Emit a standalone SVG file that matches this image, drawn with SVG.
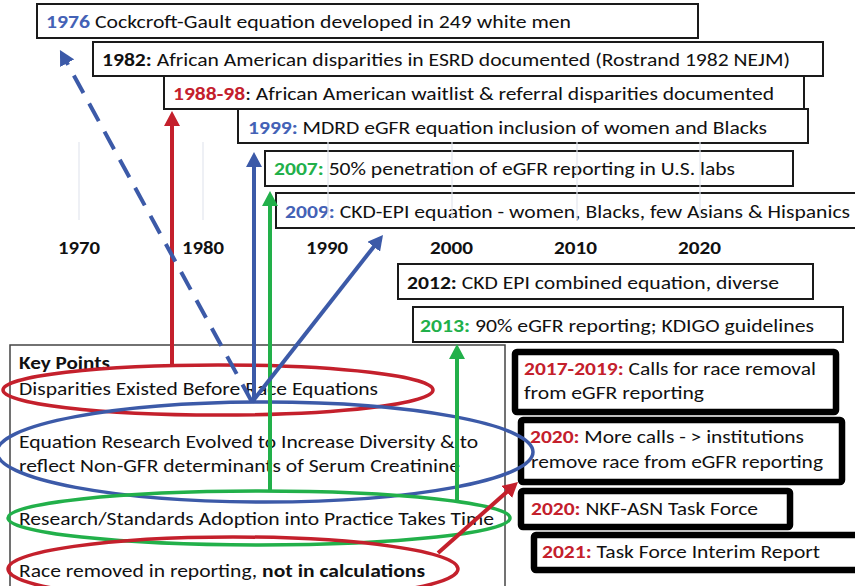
<svg xmlns="http://www.w3.org/2000/svg" width="855" height="586" viewBox="0 0 855 586">
<style>
text{font-family:Carlito,Lato,"Open Sans","Liberation Sans",sans-serif;fill:#111;}
.t{font-size:19px;}
.k{font-size:18px;}
.yr{font-size:18px;font-weight:bold;}
.b{font-weight:bold;}
.bl{fill:#4462b6;font-weight:bold;}
.rd{fill:#c4202c;font-weight:bold;}
.gr{fill:#22b04a;font-weight:bold;}
.box{fill:#fff;stroke:#1a1a1a;stroke-width:2;}
.tbox{fill:#fff;stroke:#000;stroke-width:6.5;}
.grid{stroke:#e3e6ee;stroke-width:1.2;}
.ell{fill:none;stroke-width:3.5;}
.arr{fill:none;stroke-width:4;}
</style>
<defs>
<marker id="hr" markerUnits="userSpaceOnUse" markerWidth="16" markerHeight="16" refX="3" refY="8" orient="auto"><path d="M0,0 L15,8 L0,16 z" fill="#c4202c"/></marker>
<marker id="hb" markerUnits="userSpaceOnUse" markerWidth="16" markerHeight="16" refX="3" refY="8" orient="auto"><path d="M0,0 L15,8 L0,16 z" fill="#3c5aa8"/></marker>
<marker id="hg" markerUnits="userSpaceOnUse" markerWidth="16" markerHeight="16" refX="3" refY="8" orient="auto"><path d="M0,0 L15,8 L0,16 z" fill="#22b04a"/></marker>
</defs>

<g id="e1976"><rect class="box" x="37" y="4" width="661" height="34"/><text class="t" x="46" y="28" textLength="525" lengthAdjust="spacingAndGlyphs"><tspan class="bl">1976</tspan> Cockcroft-Gault equation developed in 249 white men</text></g>
<g id="e1982"><rect class="box" x="93" y="42" width="730" height="34"/><text class="t" x="102" y="66" textLength="688" lengthAdjust="spacingAndGlyphs"><tspan class="b">1982:</tspan> African American disparities in ESRD documented (Rostrand 1982 NEJM)</text></g>
<g id="e1988"><rect class="box" x="164" y="76" width="640" height="33"/><text class="t" x="173" y="100" textLength="601" lengthAdjust="spacingAndGlyphs"><tspan class="rd">1988-98</tspan>: African American waitlist &amp; referral disparities documented</text></g>
<g id="e1999"><rect class="box" x="238" y="109" width="570" height="34"/><text class="t" x="248" y="134" textLength="519" lengthAdjust="spacingAndGlyphs"><tspan class="bl">1999:</tspan> MDRD eGFR equation inclusion of women and Blacks</text></g>
<g id="e2007"><rect class="box" x="265" y="151" width="528" height="35"/><text class="t" x="274" y="175" textLength="461" lengthAdjust="spacingAndGlyphs"><tspan class="gr">2007:</tspan> 50% penetration of eGFR reporting in U.S. labs</text></g>
<g id="e2009"><rect class="box" x="276" y="193" width="590" height="35"/><text class="t" x="285" y="218" textLength="565" lengthAdjust="spacingAndGlyphs"><tspan class="bl">2009:</tspan> CKD-EPI equation - women, Blacks, few Asians &amp; Hispanics</text></g>

<g id="grid">
<line class="grid" x1="79" y1="142" x2="79" y2="220"/>
<line class="grid" x1="203" y1="142" x2="203" y2="220"/>
<line class="grid" x1="328" y1="142" x2="328" y2="220"/>
<line class="grid" x1="452" y1="142" x2="452" y2="220"/>
<line class="grid" x1="577" y1="142" x2="577" y2="220"/>
<line class="grid" x1="700" y1="142" x2="700" y2="220"/>
</g>
<g id="years">
<text class="yr" x="58" y="254" textLength="42" lengthAdjust="spacingAndGlyphs">1970</text>
<text class="yr" x="182" y="254" textLength="42" lengthAdjust="spacingAndGlyphs">1980</text>
<text class="yr" x="306" y="254" textLength="42" lengthAdjust="spacingAndGlyphs">1990</text>
<text class="yr" x="430" y="254" textLength="43" lengthAdjust="spacingAndGlyphs">2000</text>
<text class="yr" x="554" y="254" textLength="43" lengthAdjust="spacingAndGlyphs">2010</text>
<text class="yr" x="678" y="254" textLength="43" lengthAdjust="spacingAndGlyphs">2020</text>
</g>

<g id="e2012"><rect class="box" x="398" y="264" width="415" height="35"/><text class="t" x="407" y="289" textLength="372" lengthAdjust="spacingAndGlyphs"><tspan class="b">2012:</tspan> CKD EPI combined equation, diverse</text></g>
<g id="e2013"><rect class="box" x="413" y="307" width="430" height="35"/><text class="t" x="420" y="332" textLength="394" lengthAdjust="spacingAndGlyphs"><tspan class="gr">2013:</tspan> 90% eGFR reporting; KDIGO guidelines</text></g>

<g id="r2017"><rect class="tbox" x="515" y="352" width="321" height="60" rx="2"/><text class="k" x="524" y="375" textLength="292" lengthAdjust="spacingAndGlyphs"><tspan class="rd">2017-2019:</tspan> Calls for race removal</text><text class="k" x="524" y="399" textLength="180" lengthAdjust="spacingAndGlyphs">from eGFR reporting</text></g>
<g id="r2020a"><rect class="tbox" x="521" y="420" width="321" height="62" rx="2"/><text class="k" x="530" y="443" textLength="274" lengthAdjust="spacingAndGlyphs"><tspan class="rd">2020:</tspan> More calls - &gt; institutions</text><text class="k" x="531" y="468" textLength="292" lengthAdjust="spacingAndGlyphs">remove race from eGFR reporting</text></g>
<g id="r2020b"><rect class="tbox" x="521" y="491" width="269" height="36" rx="2"/><text class="k" x="531" y="515" textLength="227" lengthAdjust="spacingAndGlyphs"><tspan class="rd">2020:</tspan> NKF-ASN Task Force</text></g>
<g id="r2021"><rect class="tbox" x="534" y="535" width="330" height="35" rx="2"/><text class="k" x="542" y="558" textLength="278" lengthAdjust="spacingAndGlyphs"><tspan class="rd">2021:</tspan> Task Force Interim Report</text></g>

<g id="keypoints">
<rect x="10" y="345" width="495" height="260" fill="#fff" stroke="#444" stroke-width="1.5"/>
<text class="k b" x="19" y="369" textLength="91" lengthAdjust="spacingAndGlyphs">Key Points</text>
<text class="k" x="19" y="395" textLength="359" lengthAdjust="spacingAndGlyphs">Disparities Existed Before Race Equations</text>
<text class="k" x="19" y="448" textLength="459" lengthAdjust="spacingAndGlyphs">Equation Research Evolved to Increase Diversity &amp; to</text>
<text class="k" x="19" y="472" textLength="441" lengthAdjust="spacingAndGlyphs">reflect Non-GFR determinants of Serum Creatinine</text>
<text class="k" x="19" y="525" textLength="475" lengthAdjust="spacingAndGlyphs">Research/Standards Adoption into Practice Takes Time</text>
<text class="k" x="19" y="577" textLength="406" lengthAdjust="spacingAndGlyphs">Race removed in reporting, <tspan class="b">not in calculations</tspan></text>
<ellipse class="ell" cx="218" cy="390" rx="215" ry="25" stroke="#c4202c"/>
<ellipse class="ell" cx="265" cy="452" rx="268" ry="50" stroke="#3c5aa8"/>
<ellipse class="ell" cx="259" cy="518" rx="251" ry="27" stroke="#22b04a"/>
<ellipse class="ell" cx="233" cy="569" rx="225" ry="32" stroke="#c4202c"/>
</g>

<g id="connectors">
<line class="arr" x1="172" y1="364" x2="172" y2="123" stroke="#c4202c" marker-end="url(#hr)"/>
<line class="arr" x1="254" y1="402" x2="254" y2="164" stroke="#3c5aa8" marker-end="url(#hb)"/>
<line class="arr" x1="270" y1="492" x2="270" y2="203" stroke="#22b04a" marker-end="url(#hg)"/>
<line class="arr" x1="252" y1="402" x2="375.6" y2="244.4" stroke="#3c5aa8" marker-end="url(#hb)"/>
<line class="arr" x1="252" y1="402" x2="65.7" y2="60.5" stroke="#3c5aa8" stroke-dasharray="20 12" marker-end="url(#hb)"/>
<line class="arr" x1="457" y1="501" x2="457" y2="356" stroke="#22b04a" marker-end="url(#hg)"/>
<line class="arr" x1="438" y1="553" x2="509" y2="490" stroke="#c4202c" marker-end="url(#hr)"/>
</g>
</svg>
